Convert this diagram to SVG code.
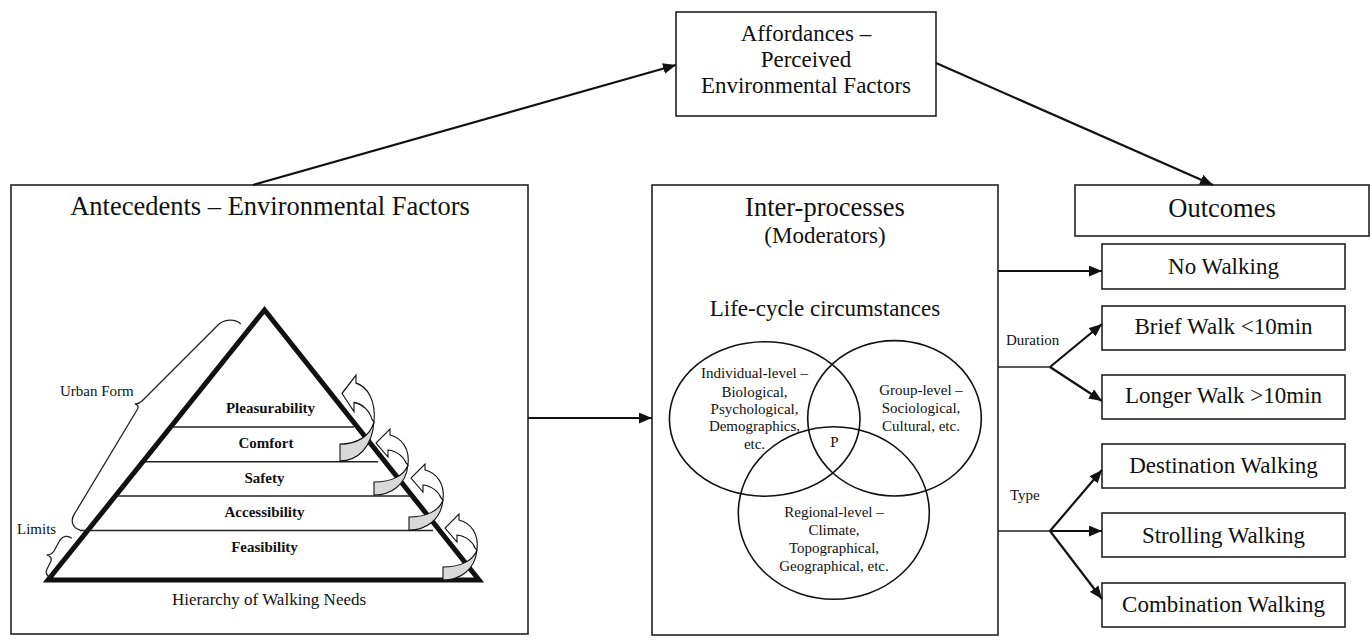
<svg xmlns="http://www.w3.org/2000/svg" xmlns:xlink="http://www.w3.org/1999/xlink" width="1372" height="644" viewBox="0 0 1372 644">
<style>
.box{fill:#fff;stroke:#222;stroke-width:1.6}
.t{font-family:"Liberation Serif","Times New Roman",serif;fill:#111;text-anchor:middle}
.tl{font-family:"Liberation Serif","Times New Roman",serif;fill:#111}
.big{font-size:26.5px}
.mid{font-size:23px}
.sm{font-size:15px}
.b{font-weight:bold}
.conn{stroke:#111;stroke-width:2.2;fill:none}
.stem{stroke:#222;stroke-width:1.3;fill:none}
.thin{stroke:#222;stroke-width:1.5;fill:none}
.ell{fill:none;stroke:#111;stroke-width:1.6}
.curlW{fill:#fff;stroke:#111;stroke-width:1.1}
.curlG{fill:#d9d9d9;stroke:#111;stroke-width:1.1}
</style>
<defs>
<marker id="ah" viewBox="0 0 12 10" refX="12" refY="5" markerWidth="13" markerHeight="11" markerUnits="userSpaceOnUse" orient="auto">
<path d="M0,0 L12,5 L0,10 Z" fill="#111"/>
</marker>
<path id="cw" d="M 34,-30 C 36,-46 28,-57 16,-60 L 16,-66 L 2,-52 L 14,-38 L 14,-45 C 23,-44 30,-38 32,-32 Z"/>
<path id="cg" d="M 0,0 C 17,0 32,-10 34,-30 C 30,-19 17,-13 0,-13 Z"/>
</defs>
<rect width="1372" height="644" fill="#fff"/>

<g id="antecedents">
<rect class="box" x="11" y="185" width="517" height="449"/>
<text class="t big" x="270" y="215">Antecedents – Environmental Factors</text>
<g id="curl-backs">
<use xlink:href="#cw" class="curlW" transform="translate(340,461) scale(1,1.3)"/>
<use xlink:href="#cw" class="curlW" transform="translate(374,495)"/>
<use xlink:href="#cw" class="curlW" transform="translate(409,530)"/>
<use xlink:href="#cw" class="curlW" transform="translate(443,580)"/>
</g>
<polygon points="264.5,310 48,580 479,580" fill="none" stroke="#111" stroke-width="5"/>
<line class="thin" x1="172" y1="427" x2="354" y2="427"/>
<line class="thin" x1="145" y1="461.7" x2="378" y2="461.7"/>
<line class="thin" x1="117" y1="496" x2="410" y2="496"/>
<line class="thin" x1="80" y1="530.5" x2="433" y2="530.5"/>
<g id="curl-fronts">
<use xlink:href="#cg" class="curlG" transform="translate(340,461) scale(1,1.3)"/>
<use xlink:href="#cg" class="curlG" transform="translate(374,495)"/>
<use xlink:href="#cg" class="curlG" transform="translate(409,530)"/>
<use xlink:href="#cg" class="curlG" transform="translate(443,580)"/>
</g>
<text class="t sm b" x="270.5" y="413">Pleasurability</text>
<text class="t sm b" x="266" y="447.5">Comfort</text>
<text class="t sm b" x="264.5" y="482.5">Safety</text>
<text class="t sm b" x="264.5" y="516.5">Accessibility</text>
<text class="t sm b" x="264.5" y="551.5">Feasibility</text>
<path class="stem" d="M 240.7,324 C 236,319 224,318 217,326 L 143,400 C 140,403 138,404 135,404 C 138,405 139,407 137,410 L 75,513 C 70,520 72,528 80,530"/>
<path class="stem" d="M 71.7,538.3 C 68,535 63,536 60,540 L 54,551 C 52,554 50,555 46.7,555 C 50,556 52,558 51,561 L 47,569 C 45,573 47,576 50,577"/>
<text class="tl sm" x="60" y="396">Urban Form</text>
<text class="tl sm" x="17" y="534">Limits</text>
<text class="t" style="font-size:17px" x="269" y="605">Hierarchy of Walking Needs</text>
</g>

<g id="affordances">
<rect class="box" x="676" y="12" width="260" height="104"/>
<text class="t mid" x="806" y="40.5">Affordances –</text>
<text class="t mid" x="806" y="66.5">Perceived</text>
<text class="t mid" x="806" y="93">Environmental Factors</text>
</g>

<g id="interprocesses">
<rect class="box" x="652" y="185" width="346" height="450"/>
<text class="t big" x="825" y="216">Inter-processes</text>
<text class="t mid" x="825" y="243">(Moderators)</text>
<text class="t mid" x="825" y="316">Life-cycle circumstances</text>
<ellipse class="ell" cx="764.7" cy="419" rx="95.3" ry="77.2"/>
<ellipse class="ell" cx="894.5" cy="418.3" rx="86.8" ry="77.7"/>
<ellipse class="ell" cx="833.8" cy="513" rx="95.5" ry="86.3"/>
<text class="t sm" x="754.5" y="378">Individual-level –</text>
<text class="t sm" x="754.5" y="396.5">Biological,</text>
<text class="t sm" x="754.5" y="413.5">Psychological,</text>
<text class="t sm" x="754.5" y="431">Demographics,</text>
<text class="t sm" x="754.5" y="449">etc.</text>
<text class="t sm" x="921" y="395">Group-level –</text>
<text class="t sm" x="921" y="413">Sociological,</text>
<text class="t sm" x="921" y="430.5">Cultural, etc.</text>
<text class="t sm" x="834.5" y="447">P</text>
<text class="t sm" x="834" y="516.5">Regional-level –</text>
<text class="t sm" x="834" y="534.5">Climate,</text>
<text class="t sm" x="834" y="552.5">Topographical,</text>
<text class="t sm" x="834" y="570.5">Geographical, etc.</text>
</g>

<g id="outcomes">
<rect class="box" x="1075" y="185" width="294" height="51"/>
<text class="t big" x="1222" y="216.5">Outcomes</text>
</g>
<g id="no-walking"><rect class="box" x="1102" y="244" width="243" height="45"/><text class="t mid" x="1223.5" y="274">No Walking</text></g>
<g id="brief-walk"><rect class="box" x="1102" y="306" width="243" height="44"/><text class="t mid" x="1223.5" y="334">Brief Walk &lt;10min</text></g>
<g id="longer-walk"><rect class="box" x="1102" y="375" width="243" height="44"/><text class="t mid" x="1223.5" y="403.3">Longer Walk &gt;10min</text></g>
<g id="destination-walking"><rect class="box" x="1102" y="444" width="243" height="44"/><text class="t mid" x="1223.5" y="473.3">Destination Walking</text></g>
<g id="strolling-walking"><rect class="box" x="1102" y="513" width="243" height="44"/><text class="t mid" x="1223.5" y="542.7">Strolling Walking</text></g>
<g id="combination-walking"><rect class="box" x="1102" y="583" width="243" height="44"/><text class="t mid" x="1223.5" y="611.7">Combination Walking</text></g>

<g id="connectors">
<line class="conn" x1="253" y1="185" x2="676" y2="65" marker-end="url(#ah)"/>
<line class="conn" x1="936" y1="63" x2="1213" y2="185" marker-end="url(#ah)"/>
<line class="conn" x1="528" y1="418" x2="652" y2="418" marker-end="url(#ah)"/>
<line class="conn" x1="998" y1="271" x2="1102" y2="271" marker-end="url(#ah)"/>
<line class="stem" x1="998" y1="367" x2="1050" y2="367"/>
<line class="conn" x1="1050" y1="367" x2="1102" y2="324" marker-end="url(#ah)"/>
<line class="conn" x1="1050" y1="367" x2="1102" y2="401" marker-end="url(#ah)"/>
<line class="stem" x1="998" y1="531" x2="1050" y2="531"/>
<line class="conn" x1="1050" y1="531" x2="1102" y2="470" marker-end="url(#ah)"/>
<line class="conn" x1="1050" y1="531" x2="1102" y2="531" marker-end="url(#ah)"/>
<line class="conn" x1="1050" y1="531" x2="1102" y2="599" marker-end="url(#ah)"/>
<text class="tl sm" x="1006" y="345">Duration</text>
<text class="tl sm" x="1010" y="500">Type</text>
</g>
</svg>
